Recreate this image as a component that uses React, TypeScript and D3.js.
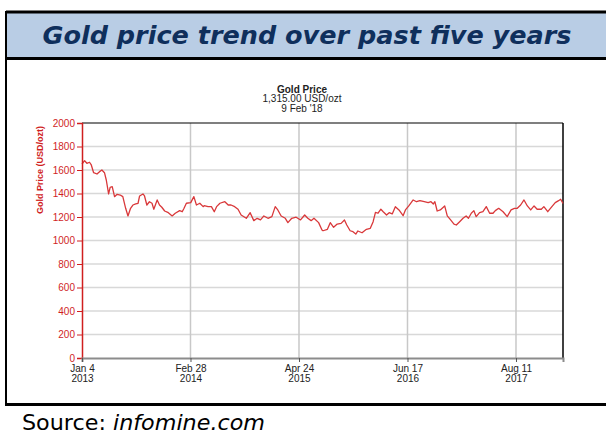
import React, { useRef, useEffect } from 'react';
import * as d3 from 'd3';

// weekly-ish gold price readings (USD/ozt)
const dates = [
  '2013-01-04', '2013-01-14', '2013-01-23', '2013-02-02', '2013-02-09', '2013-02-18', '2013-03-03', '2013-03-13',
  '2013-03-22', '2013-04-01', '2013-04-08', '2013-04-17', '2013-04-23', '2013-05-01', '2013-05-10', '2013-05-20',
  '2013-06-01', '2013-06-11', '2013-06-22', '2013-07-01', '2013-07-11', '2013-07-20', '2013-07-31', '2013-08-09',
  '2013-08-15', '2013-08-28', '2013-09-03', '2013-09-12', '2013-09-22', '2013-10-02', '2013-10-09', '2013-10-22',
  '2013-10-31', '2013-11-09', '2013-11-20', '2013-12-02', '2013-12-19', '2013-12-31', '2014-01-17', '2014-01-27',
  '2014-02-03', '2014-02-12', '2014-03-01', '2014-03-13', '2014-03-23', '2014-04-05', '2014-04-18', '2014-04-22',
  '2014-05-07', '2014-05-20', '2014-05-31', '2014-06-09', '2014-06-22', '2014-07-11', '2014-07-24', '2014-08-04',
  '2014-08-18', '2014-08-31', '2014-09-12', '2014-10-02', '2014-10-17', '2014-10-31', '2014-11-13', '2014-11-26',
  '2014-12-09', '2014-12-25', '2015-01-09', '2015-01-22', '2015-02-01', '2015-02-14', '2015-03-02', '2015-03-12',
  '2015-03-27', '2015-04-13', '2015-04-30', '2015-05-16', '2015-05-28', '2015-06-10', '2015-06-21', '2015-07-09',
  '2015-07-22', '2015-07-26', '2015-08-12', '2015-08-23', '2015-09-05', '2015-09-19', '2015-10-04', '2015-10-17',
  '2015-10-26', '2015-11-08', '2015-11-19', '2015-11-30', '2015-12-08', '2015-12-24', '2016-01-10', '2016-01-25',
  '2016-02-05', '2016-02-14', '2016-02-24', '2016-03-06', '2016-03-15', '2016-03-28', '2016-04-07', '2016-04-19',
  '2016-05-01', '2016-05-15', '2016-05-31', '2016-06-09', '2016-06-22', '2016-07-09', '2016-07-22', '2016-08-04',
  '2016-08-21', '2016-09-05', '2016-09-16', '2016-09-25', '2016-10-01', '2016-10-10', '2016-10-22', '2016-11-08',
  '2016-11-18', '2016-12-01', '2016-12-14', '2016-12-23', '2017-01-05', '2017-01-18', '2017-01-30', '2017-02-08',
  '2017-02-19', '2017-03-01', '2017-03-10', '2017-03-23', '2017-04-05', '2017-04-18', '2017-05-01', '2017-05-14',
  '2017-05-23', '2017-06-05', '2017-06-22', '2017-07-08', '2017-07-23', '2017-08-05', '2017-08-16', '2017-08-29',
  '2017-09-11', '2017-09-24', '2017-10-07', '2017-10-20', '2017-11-01', '2017-11-17', '2017-11-27', '2017-12-12',
  '2017-12-28', '2018-01-10', '2018-01-23', '2018-01-31', '2018-02-09',
];

const prices = [
  1651, 1679, 1657, 1666, 1643, 1577, 1566, 1586,
  1600, 1577, 1515, 1396, 1453, 1458, 1373, 1393,
  1387, 1373, 1274, 1209, 1274, 1302, 1311, 1317,
  1379, 1396, 1379, 1302, 1330, 1317, 1266, 1345,
  1302, 1283, 1251, 1240, 1209, 1232, 1254, 1245,
  1274, 1317, 1322, 1373, 1302, 1317, 1288, 1296,
  1288, 1288, 1245, 1288, 1317, 1330, 1302, 1302,
  1288, 1266, 1217, 1189, 1237, 1169, 1189, 1175,
  1209, 1189, 1203, 1288, 1260, 1209, 1189, 1152,
  1189, 1198, 1175, 1217, 1189, 1169, 1189, 1152,
  1089, 1083, 1095, 1152, 1112, 1140, 1146, 1175,
  1132, 1083, 1075, 1055, 1081, 1066, 1095, 1104,
  1160, 1240, 1232, 1266, 1245, 1217, 1237, 1226,
  1288, 1260, 1211, 1260, 1294, 1345, 1330, 1339,
  1330, 1322, 1330, 1311, 1330, 1251, 1260, 1294,
  1209, 1175, 1140, 1132, 1160, 1189, 1209, 1189,
  1232, 1254, 1203, 1237, 1245, 1288, 1232, 1232,
  1254, 1274, 1245, 1203, 1260, 1274, 1274, 1302,
  1345, 1294, 1260, 1294, 1266, 1266, 1288, 1245,
  1288, 1322, 1339, 1351, 1315,
];

const xTickDates = ['2013-01-04', '2014-02-28', '2015-04-24', '2016-06-17', '2017-08-11'];
const yTicks = [0, 200, 400, 600, 800, 1000, 1200, 1400, 1600, 1800, 2000];
const subtitleLines = ['1,315.00 USD/ozt', "9 Feb '18"];

function Chart() {
  const ref = useRef(null);

  useEffect(() => {
    const svg = d3.select(ref.current);
    svg.selectAll('*').remove();

    const W = 606;
    const H = 434;
    const plot = { left: 82, right: 563, top: 123, bottom: 358 };
    const red = '#d01f1f';
    const parse = d3.utcParse('%Y-%m-%d');
    const data = dates.map((d, i) => ({ date: parse(d), value: prices[i] }));

    svg.append('rect').attr('width', W).attr('height', H).attr('fill', '#fff');

    // title band
    svg.append('rect').attr('x', 6).attr('y', 12).attr('width', W).attr('height', 47).attr('fill', '#b9cde5');
    svg.append('line').attr('x1', 6).attr('x2', W).attr('y1', 12).attr('y2', 12).attr('stroke', '#000').attr('stroke-width', 3);
    svg.append('line').attr('x1', 6).attr('x2', W).attr('y1', 58.5).attr('y2', 58.5).attr('stroke', '#000').attr('stroke-width', 3);
    svg.append('line').attr('x1', 6).attr('x2', 6).attr('y1', 11).attr('y2', 405).attr('stroke', '#000').attr('stroke-width', 2);
    svg.append('line').attr('x1', 5).attr('x2', W).attr('y1', 404.5).attr('y2', 404.5).attr('stroke', '#000').attr('stroke-width', 3);

    svg.append('text')
      .attr('x', 307).attr('y', 43.5)
      .attr('text-anchor', 'middle')
      .attr('font-family', 'DejaVu Sans, Verdana, sans-serif')
      .attr('font-weight', 'bold').attr('font-style', 'italic')
      .attr('font-size', 24)
      .attr('fill', '#0f2f5c')
      .attr('textLength', 529).attr('lengthAdjust', 'spacingAndGlyphs')
      .text('Gold price trend over past five years');

    const src = svg.append('text')
      .attr('x', 22).attr('y', 430)
      .attr('font-family', 'DejaVu Sans, Verdana, sans-serif')
      .attr('font-size', 21).attr('fill', '#000')
      .attr('textLength', 243).attr('lengthAdjust', 'spacingAndGlyphs');
    src.append('tspan').text('Source: ');
    src.append('tspan').attr('font-style', 'italic').text('infomine.com');

    // scales
    const x = d3.scaleUtc()
      .domain([parse('2013-01-04'), parse('2018-02-09')])
      .range([plot.left, plot.right]);
    const y = d3.scaleLinear().domain([0, 2000]).range([plot.bottom, plot.top]);

    const font = 'Liberation Sans, Arial, sans-serif';

    // chart heading
    const head = svg.append('g').attr('font-family', font).attr('text-anchor', 'middle').attr('fill', '#222');
    head.append('text').attr('x', 302).attr('y', 92.5).attr('font-size', 10).attr('font-weight', 'bold').text('Gold Price');
    subtitleLines.forEach((t, i) => {
      head.append('text').attr('x', 302).attr('y', 102 + i * 9.5).attr('font-size', 10).text(t);
    });

    // grid
    svg.append('g')
      .selectAll('line')
      .data(yTicks.slice(1, -1))
      .join('line')
      .attr('x1', plot.left).attr('x2', plot.right)
      .attr('y1', (d) => y(d)).attr('y2', (d) => y(d))
      .attr('stroke', '#d8d8d8').attr('stroke-width', 1.5);

    const xTicks = xTickDates.map((d) => parse(d));
    svg.append('g')
      .selectAll('line')
      .data(xTicks.slice(1))
      .join('line')
      .attr('x1', (d) => x(d)).attr('x2', (d) => x(d))
      .attr('y1', plot.top).attr('y2', plot.bottom)
      .attr('stroke', '#c8c8c8').attr('stroke-width', 1.5);

    // frame
    svg.append('line').attr('x1', plot.left).attr('x2', plot.right).attr('y1', plot.top).attr('y2', plot.top).attr('stroke', '#000').attr('stroke-width', 1.2);
    svg.append('line').attr('x1', plot.right).attr('x2', plot.right).attr('y1', plot.top).attr('y2', plot.bottom).attr('stroke', '#000').attr('stroke-width', 1.5);

    // price line
    const line = d3.line().x((d) => x(d.date)).y((d) => y(d.value));
    svg.append('path')
      .datum(data)
      .attr('d', line)
      .attr('fill', 'none')
      .attr('stroke', '#d9383a')
      .attr('stroke-width', 1.3)
      .attr('stroke-linejoin', 'round');

    // y axis
    const yAxis = svg.append('g')
      .attr('transform', `translate(${plot.left},0)`)
      .call(d3.axisLeft(y).tickValues(yTicks).tickSize(5).tickPadding(2).tickFormat(d3.format('d')));
    yAxis.select('.domain').attr('stroke', red).attr('stroke-width', 1.5);
    yAxis.selectAll('.tick line').attr('stroke', red);
    yAxis.selectAll('.tick text').attr('fill', red).attr('font-family', font).attr('font-size', 10);

    svg.append('text')
      .attr('transform', 'translate(43,170) rotate(-90)')
      .attr('text-anchor', 'middle')
      .attr('font-family', font).attr('font-size', 9).attr('font-weight', 'bold')
      .attr('fill', red)
      .text('Gold Price (USD/ozt)');

    // x axis
    const xAxis = svg.append('g')
      .attr('transform', `translate(0,${plot.bottom})`)
      .call(d3.axisBottom(x).tickValues(xTicks).tickSize(4).tickFormat(() => ''));
    xAxis.select('.domain').attr('stroke', '#8c8c8c').attr('stroke-width', 2);
    xAxis.selectAll('.tick line').attr('stroke', '#555');
    xAxis.selectAll('.tick').each(function (d) {
      const g = d3.select(this);
      g.select('text').remove();
      const t = g.append('text')
        .attr('text-anchor', 'middle').attr('fill', '#222')
        .attr('font-family', font).attr('font-size', 10);
      t.append('tspan').attr('x', 0).attr('y', 14).text(d3.utcFormat('%b %-d')(d));
      t.append('tspan').attr('x', 0).attr('y', 24).text(d3.utcFormat('%Y')(d));
    });
  }, []);

  return <svg ref={ref} width={606} height={434} style={{ position: 'absolute', left: 0, top: 0 }}></svg>;
}

export default function App() {
  return <Chart />;
}
